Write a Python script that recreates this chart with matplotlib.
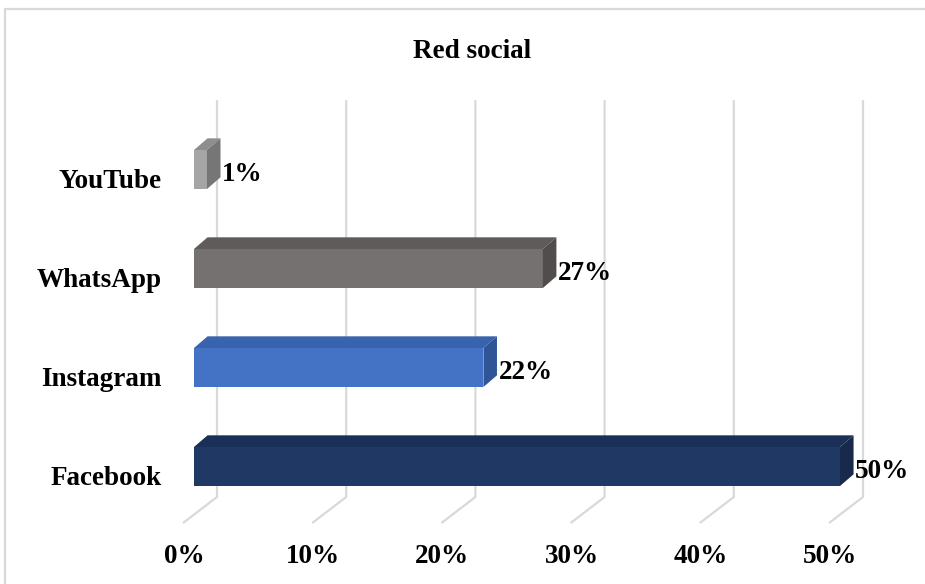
import matplotlib
matplotlib.use("Agg")
import matplotlib.pyplot as plt
from matplotlib.patches import Polygon, Rectangle

# ---- data ----
categories = ["Facebook", "Instagram", "WhatsApp", "YouTube"]
values = [50, 22.4, 27, 1]          # bar lengths
value_labels = ["50%", "22%", "27%", "1%"]
tick_values = [0, 10, 20, 30, 40, 50]
tick_labels = ["0%", "10%", "20%", "30%", "40%", "50%"]
title = "Red social"

# ---- styles ----
front_colors = ["#203864", "#4472C4", "#767171", "#A5A5A5"]
top_colors = ["#1B3059", "#3A63AD", "#5F5B5B", "#8E8E8E"]
side_colors = ["#172A4C", "#2F5597", "#514D4D", "#767676"]

FONT = "Liberation Serif"
FS = 19.5

W, H = 925, 584
fig = plt.figure(figsize=(W / 100, H / 100), dpi=100)
ax = fig.add_axes([0, 0, 1, 1])

# data <-> pixel scale (x in %, y in category index)
px_per_pct = 12.92
px_per_cat = 99.0
x0_px = 194.0
y0_px = 466.5  # from top
ax.set_xlim(-x0_px / px_per_pct, (W - x0_px) / px_per_pct)
ax.set_ylim((y0_px - H) / px_per_cat, y0_px / px_per_cat)
ax.axis("off")

bar_h = 0.394
bdx, bdy = 1.05, 0.118          # bar depth offset
wall_dx = 1.78                  # back wall offset (x)
wall_bottom, wall_top = -0.308, 3.70
floor_dx, floor_y = -0.85, -0.571

# frame
fig.patches.append(Rectangle((5 / W, -0.1), 1.2, (H - 9) / H + 0.1,
                             transform=fig.transFigure, fill=False,
                             edgecolor="#D9D9D9", linewidth=1.6))

# gridlines (back wall + floor)
for v in tick_values:
    ax.plot([v + wall_dx, v + wall_dx, v + floor_dx],
            [wall_top, wall_bottom, floor_y],
            color="#D9D9D9", linewidth=1.6, zorder=1, solid_capstyle="butt")

# bars
for i, (cat, val, lab) in enumerate(zip(categories, values, value_labels)):
    b, t = i - bar_h / 2, i + bar_h / 2
    front = Polygon([(0, b), (val, b), (val, t), (0, t)], closed=True,
                    facecolor=front_colors[i], edgecolor="none", zorder=3)
    top = Polygon([(0, t), (bdx, t + bdy), (val + bdx, t + bdy), (val, t)],
                  closed=True, facecolor=top_colors[i], edgecolor="none", zorder=3)
    side = Polygon([(val, b), (val, t), (val + bdx, t + bdy), (val + bdx, b + bdy)],
                   closed=True, facecolor=side_colors[i], edgecolor="none", zorder=3)
    for p in (front, top, side):
        ax.add_patch(p)
    ax.text(val + bdx + 0.12, i - 0.02, lab, ha="left", va="center_baseline",
            fontsize=FS, fontweight="bold", family=FONT, zorder=4)
    ax.text(-2.48, i - 0.09, cat, ha="right", va="center_baseline",
            fontsize=FS, fontweight="bold", family=FONT, zorder=4)

# x tick labels
for v, lab in zip(tick_values, tick_labels):
    ax.text(v - 0.78, -0.874, lab, ha="center", va="center_baseline",
            fontsize=FS, fontweight="bold", family=FONT)

# title
ax.text((472 - x0_px) / px_per_pct, (y0_px - 48) / px_per_cat, title,
        ha="center", va="center_baseline", fontsize=19.5, fontweight="bold", family=FONT)

fig.savefig("out.png", dpi=100)
